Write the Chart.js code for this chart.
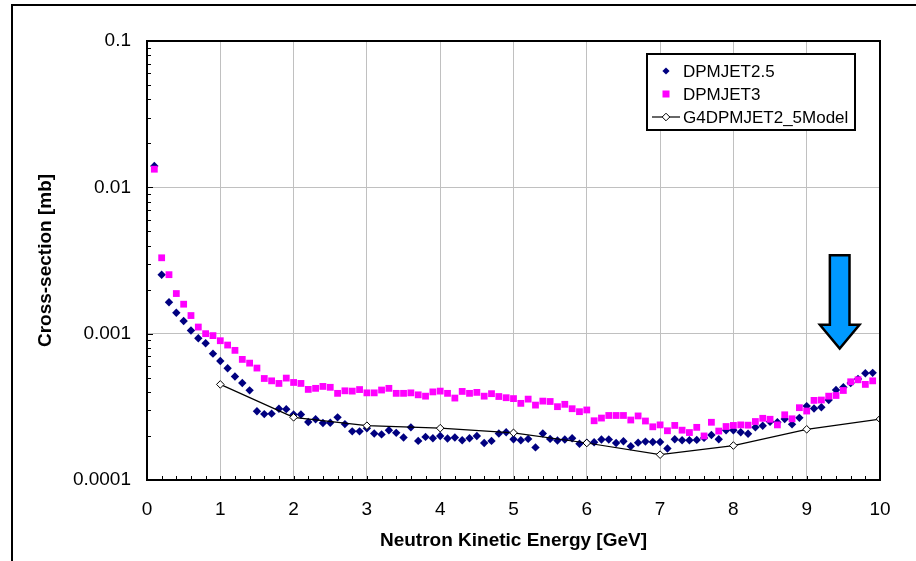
<!DOCTYPE html>
<html lang="en">
<head>
<meta charset="UTF-8">
<title>Cross-section vs Neutron Kinetic Energy</title>
<script src="https://cdn.jsdelivr.net/npm/chart.js"></script>
<style>
    html, body { margin: 0; padding: 0; background: #fff; }
    #chart-container { width: 916px; height: 561px; }
</style>
</head>
<body>
<div id="chart-container">
    <canvas id="xs-chart" width="916" height="561"></canvas>
</div>
<script>
    // energy grid of the two DPMJET samples [GeV]
    const energies = [
        0.1, 0.2, 0.3, 0.4, 0.5, 0.6, 0.7, 0.8, 0.9, 1.0,
        1.1, 1.2, 1.3, 1.4, 1.5, 1.6, 1.7, 1.8, 1.9, 2.0,
        2.1, 2.2, 2.3, 2.4, 2.5, 2.6, 2.7, 2.8, 2.9, 3.0,
        3.1, 3.2, 3.3, 3.4, 3.5, 3.6, 3.7, 3.8, 3.9, 4.0,
        4.1, 4.2, 4.3, 4.4, 4.5, 4.6, 4.7, 4.8, 4.9, 5.0,
        5.1, 5.2, 5.3, 5.4, 5.5, 5.6, 5.7, 5.8, 5.9, 6.0,
        6.1, 6.2, 6.3, 6.4, 6.5, 6.6, 6.7, 6.8, 6.9, 7.0,
        7.1, 7.2, 7.3, 7.4, 7.5, 7.6, 7.7, 7.8, 7.9, 8.0,
        8.1, 8.2, 8.3, 8.4, 8.5, 8.6, 8.7, 8.8, 8.9, 9.0,
        9.1, 9.2, 9.3, 9.4, 9.5, 9.6, 9.7, 9.8, 9.9
    ];

    // DPMJET2.5 cross-section [mb]
    const dpmjet25 = [
        0.014, 0.00253, 0.00164, 0.00139, 0.00122, 0.00105, 0.00093, 0.00086, 0.00073, 0.00065,
        0.00058, 0.00051, 0.00046, 0.00041, 0.000295, 0.000282, 0.000284, 0.000307, 0.000305, 0.00028,
        0.00028, 0.000249, 0.00026, 0.000245, 0.000246, 0.000268, 0.000241, 0.000215, 0.000215, 0.000226,
        0.000208, 0.000205, 0.000219, 0.00021, 0.000195, 0.000229, 0.000185, 0.000197, 0.000193, 0.0002,
        0.000192, 0.000195, 0.000187, 0.000193, 0.0002, 0.000179, 0.000185, 0.000208, 0.000212, 0.00019,
        0.000187, 0.000191, 0.000167, 0.000208, 0.000191, 0.000186, 0.000189, 0.000193, 0.000177, 0.00018,
        0.000181, 0.000189, 0.000189, 0.000179, 0.000184, 0.00017, 0.00018, 0.000183, 0.000182, 0.000182,
        0.000164, 0.00019, 0.000187, 0.000187, 0.000188, 0.000194, 0.000203, 0.00019, 0.000219, 0.000219,
        0.000212, 0.000207, 0.000229, 0.000235, 0.00025, 0.000248, 0.000261, 0.00024, 0.000266, 0.00032,
        0.000308, 0.000314, 0.000352, 0.000412, 0.00043, 0.00046, 0.00049, 0.000537, 0.00054
    ];

    // DPMJET3 cross-section [mb]
    const dpmjet3 = [
        0.0133, 0.0033, 0.00253, 0.00188, 0.00159, 0.00133, 0.00111, 0.001, 0.00097, 0.000895,
        0.000836, 0.000769, 0.000667, 0.000629, 0.000582, 0.000494, 0.000476, 0.000457, 0.000497, 0.000464,
        0.000457, 0.000416, 0.000423, 0.000436, 0.00043, 0.000391, 0.000407, 0.000405, 0.000415, 0.000394,
        0.000394, 0.000412, 0.000423, 0.000391, 0.000391, 0.000394, 0.000382, 0.000374, 0.0004, 0.000405,
        0.000391, 0.000363, 0.000403, 0.000391, 0.000397, 0.000374, 0.000389, 0.000372, 0.000365, 0.00036,
        0.000334, 0.000357, 0.000325, 0.000346, 0.000344, 0.000317, 0.000329, 0.000307, 0.000293, 0.000301,
        0.000254, 0.000265, 0.000276, 0.000276, 0.000276, 0.000257, 0.000274, 0.000253, 0.000231, 0.000238,
        0.000217, 0.000236, 0.000219, 0.000211, 0.000229, 0.0002, 0.000248, 0.000216, 0.000232, 0.000236,
        0.000238, 0.000237, 0.000251, 0.000264, 0.00026, 0.000238, 0.000279, 0.000262, 0.000312, 0.000296,
        0.00035, 0.000352, 0.000374, 0.000378, 0.000409, 0.000469, 0.000484, 0.00045, 0.000476
    ];

    // G4DPMJET2_5Model
    const g4Energies = [1, 2, 3, 4, 5, 6, 7, 8, 9, 10];
    const g4Model = [0.00045, 0.000268, 0.000235, 0.000226, 0.00021, 0.000179, 0.000149, 0.000172, 0.000222, 0.000261];

    const yTickValues = [0.0001, 0.001, 0.01, 0.1];
    const yTickLabels = ['0.0001', '0.001', '0.01', '0.1'];

    // the blue arrow, in data units: centre energy, top / head / tip cross-sections
    const arrowX = 9.45;
    const arrowTop = 0.00344, arrowHead = 0.00115, arrowTip = 0.00079;
    const arrowShaftHalf = 0.134, arrowHeadHalf = 0.27;

    const FONT = "'Liberation Sans', Arial, sans-serif";

    function toPoints(xs, ys) {
        return xs.map((x, i) => ({ x: x, y: ys[i] }));
    }

    function diamond(ctx, x, y, r) {
        ctx.beginPath();
        ctx.moveTo(x, y - r);
        ctx.lineTo(x + r, y);
        ctx.lineTo(x, y + r);
        ctx.lineTo(x - r, y);
        ctx.closePath();
    }

    // frame, inner ticks, plot border, legend and arrow
    const decorations = {
        id: 'decorations',
        afterDraw(chart) {
            const ctx = chart.ctx;
            const area = chart.chartArea;
            const xs = chart.scales.x;
            const ys = chart.scales.y;
            ctx.save();

            // outer chart frame (runs off the picture on the right and bottom)
            ctx.strokeStyle = '#000';
            ctx.lineWidth = 2;
            ctx.strokeRect(12, 5, 1000, 1000);

            // minor ticks pointing into the plot
            ctx.lineWidth = 1;
            ctx.beginPath();
            for (let v = 0.2; v < 10; v += 0.2) {
                const px = Math.round(xs.getPixelForValue(v)) + 0.5;
                ctx.moveTo(px, area.bottom);
                ctx.lineTo(px, area.bottom - 4);
            }
            for (let e = -4; e < -1; e++) {
                for (let m = 1; m <= 9; m++) {
                    const py = Math.round(ys.getPixelForValue(m * Math.pow(10, e))) + 0.5;
                    ctx.moveTo(area.left, py);
                    ctx.lineTo(area.left + (m === 1 ? 6 : 4), py);
                }
            }
            ctx.stroke();

            // plot area border
            ctx.lineWidth = 2;
            ctx.strokeRect(area.left, area.top, area.right - area.left, area.bottom - area.top);

            // arrow
            const cx = xs.getPixelForValue(arrowX);
            const sl = xs.getPixelForValue(arrowX - arrowShaftHalf);
            const sr = xs.getPixelForValue(arrowX + arrowShaftHalf);
            const hl = xs.getPixelForValue(arrowX - arrowHeadHalf);
            const hr = xs.getPixelForValue(arrowX + arrowHeadHalf);
            const yt = ys.getPixelForValue(arrowTop);
            const yh = ys.getPixelForValue(arrowHead);
            const yp = ys.getPixelForValue(arrowTip);
            ctx.beginPath();
            ctx.moveTo(sl, yt);
            ctx.lineTo(sr, yt);
            ctx.lineTo(sr, yh);
            ctx.lineTo(hr, yh);
            ctx.lineTo(cx, yp);
            ctx.lineTo(hl, yh);
            ctx.lineTo(sl, yh);
            ctx.closePath();
            ctx.fillStyle = '#0099FF';
            ctx.fill();
            ctx.lineWidth = 2.5;
            ctx.lineJoin = 'miter';
            ctx.stroke();

            // legend box
            const lx = 647, ly = 54, lw = 208, lh = 76;
            ctx.fillStyle = '#fff';
            ctx.fillRect(lx, ly, lw, lh);
            ctx.lineWidth = 2;
            ctx.strokeStyle = '#000';
            ctx.strokeRect(lx, ly, lw, lh);

            ctx.font = '17px ' + FONT;
            ctx.textBaseline = 'middle';
            ctx.textAlign = 'left';
            const rows = [ly + 17, ly + 40, ly + 63];
            const mx = lx + 19;
            chart.data.datasets.forEach((ds, i) => {
                const ry = rows[i];
                if (i === 0) {
                    diamond(ctx, mx, ry, 3.6);
                    ctx.fillStyle = ds.backgroundColor;
                    ctx.fill();
                } else if (i === 1) {
                    ctx.fillStyle = ds.backgroundColor;
                    ctx.fillRect(mx - 3.5, ry - 3.5, 7, 7);
                } else {
                    ctx.strokeStyle = '#000';
                    ctx.lineWidth = 1.2;
                    ctx.beginPath();
                    ctx.moveTo(lx + 5, ry);
                    ctx.lineTo(lx + 33, ry);
                    ctx.stroke();
                    diamond(ctx, mx, ry, 3.8);
                    ctx.fillStyle = '#fff';
                    ctx.fill();
                    ctx.lineWidth = 1;
                    ctx.stroke();
                }
                ctx.fillStyle = '#000';
                ctx.fillText(ds.label, lx + 36, ry + 1);
            });
            ctx.restore();
        }
    };

    const ctx = document.getElementById('xs-chart').getContext('2d');
    const chart = new Chart(ctx, {
        type: 'scatter',
        data: {
            datasets: [
                {
                    label: 'DPMJET2.5',
                    data: toPoints(energies, dpmjet25),
                    pointStyle: 'rectRot',
                    pointRadius: 4.2,
                    backgroundColor: '#000080',
                    borderColor: '#000080',
                    borderWidth: 0,
                    order: 3
                },
                {
                    label: 'DPMJET3',
                    data: toPoints(energies, dpmjet3),
                    pointStyle: 'rect',
                    pointRadius: 4.8,
                    backgroundColor: '#FF00FF',
                    borderColor: '#FF00FF',
                    borderWidth: 0,
                    order: 2
                },
                {
                    label: 'G4DPMJET2_5Model',
                    type: 'line',
                    data: toPoints(g4Energies, g4Model),
                    showLine: true,
                    borderColor: '#000',
                    borderWidth: 1.2,
                    pointStyle: 'rectRot',
                    pointRadius: 3.8,
                    pointBackgroundColor: '#fff',
                    pointBorderColor: '#000',
                    pointBorderWidth: 1,
                    fill: false,
                    order: 1
                }
            ]
        },
        options: {
            responsive: false,
            animation: false,
            devicePixelRatio: 1,
            layout: { padding: { left: 24, top: 41, right: 36, bottom: 0 } },
            plugins: {
                legend: { display: false },
                tooltip: { enabled: false }
            },
            scales: {
                x: {
                    type: 'linear',
                    min: 0,
                    max: 10,
                    ticks: {
                        stepSize: 1,
                        maxRotation: 0,
                        color: '#000',
                        padding: 18,
                        font: { family: FONT, size: 19 }
                    },
                    grid: { color: '#c0c0c0', drawTicks: false },
                    border: { display: false },
                    title: {
                        display: true,
                        text: 'Neutron Kinetic Energy [GeV]',
                        color: '#000',
                        font: { family: FONT, size: 19, weight: 'bold' },
                        padding: { top: 0, bottom: 9 }
                    },
                    afterFit(scale) { scale.height = 81; }
                },
                y: {
                    type: 'logarithmic',
                    min: 0.0001,
                    max: 0.1,
                    afterBuildTicks(scale) {
                        scale.ticks = yTickValues.map(v => ({ value: v }));
                    },
                    ticks: {
                        color: '#000',
                        padding: 16,
                        font: { family: FONT, size: 19 },
                        callback: (value, index) => yTickLabels[index]
                    },
                    grid: { color: '#c0c0c0', drawTicks: false },
                    border: { display: false },
                    title: {
                        display: true,
                        text: 'Cross-section [mb]',
                        color: '#000',
                        font: { family: FONT, size: 19, weight: 'bold' },
                        padding: { top: 10, bottom: 0 }
                    },
                    afterFit(scale) { scale.width = 123; }
                }
            }
        },
        plugins: [decorations]
    });
</script>
</body>
</html>
